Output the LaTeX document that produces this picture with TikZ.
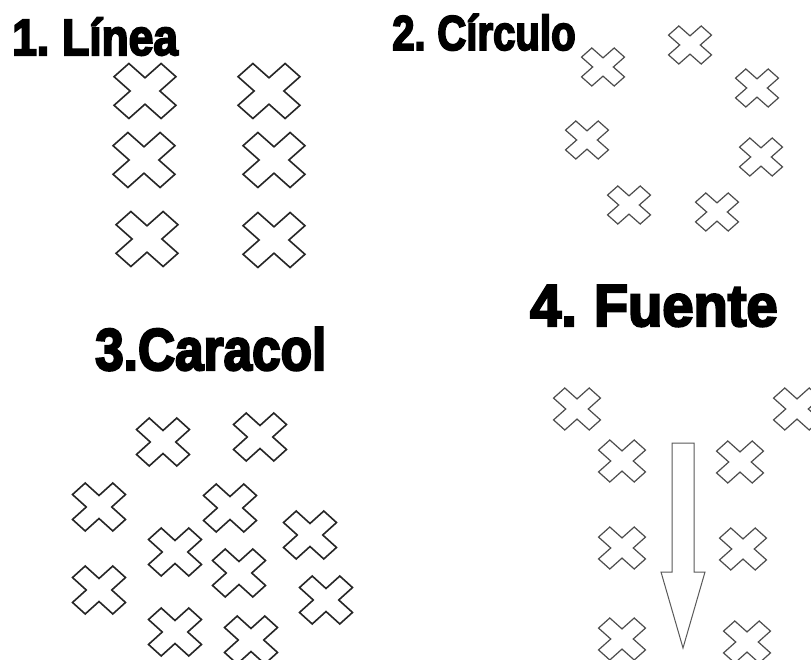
\documentclass[tikz,border=0pt]{standalone}
\usepackage{fontspec}
\newfontfamily\titlefont[FakeBold=4]{Liberation Sans Bold}

\tikzset{
  pics/xmark/.style={code={
    \draw[rotate=45, line join=miter]
      (0.24,0.24) -- (0.76,0.24) -- (0.76,-0.24) -- (0.24,-0.24) -- (0.24,-0.76) -- (-0.24,-0.76)
      -- (-0.24,-0.24) -- (-0.76,-0.24) -- (-0.76,0.24) -- (-0.24,0.24) -- (-0.24,0.76) -- (0.24,0.76) -- cycle;
  }}
}

\begin{document}
\begin{tikzpicture}[
  x=1pt, y=-1pt,
  title/.style={anchor=base west, inner sep=0pt, font=\titlefont},
  darkx/.style={color=black!85, line width=1.6pt},
  grayx/.style={color=black!70, line width=1.2pt},
  linea/.style={darkx, xscale=43.8, yscale=38.9},
  circulo/.style={grayx, xscale=30.4, yscale=26.9},
  caracol/.style={darkx, xscale=37.5, yscale=33.9},
  fuente/.style={grayx, xscale=33.2, yscale=29.7},
  arrowline/.style={draw=black!65, line width=1pt, line join=miter}
]
  \useasboundingbox[fill=white] (0,0) rectangle (811,660);

  % titles
  \node[title, font=\titlefont\fontsize{51}{51}\selectfont] (tlinea)   at (12,55)  {\scalebox{0.87}[1]{1.\hspace{-4pt} Línea}};
  \node[title, font=\titlefont\fontsize{49}{49}\selectfont] (tcirculo) at (392,50) {\scalebox{0.82}[1]{2.\hspace{-4pt} Círculo}};
  \node[title, font=\titlefont\fontsize{59}{59}\selectfont] (tcaracol) at (95,370) {\scalebox{0.87}[1]{3.Caracol}};
  \node[title, font=\titlefont\fontsize{59}{59}\selectfont] (tfuente)  at (530,326) {\scalebox{0.95}[1]{4.\hspace{-4pt} Fuente}};

  % 1. linea
  \foreach \px/\py in {145/91, 269/91, 144/160, 274/160, 147/239, 274/240}
    \pic[linea] at (\px,\py) {xmark};

  % 2. circulo
  \foreach \px/\py in {603/67, 690/45, 757/88, 587/140, 761/157, 629/205, 717/212}
    \pic[circulo] at (\px,\py) {xmark};

  % 3. caracol
  \foreach \px/\py in {163/442, 260/437, 99/507, 230/508, 310/535, 175/552,
                       239/573, 99/590, 326/600, 175/632, 251/640}
    \pic[caracol] at (\px,\py) {xmark};

  % 4. fuente
  \foreach \px/\py in {577/409, 797/409, 622/461, 740/462, 622/548, 743/549, 622/639, 747/642}
    \pic[fuente] at (\px,\py) {xmark};

  % flecha
  \draw[arrowline] (672,443) -- (694,443) -- (694,572) -- (705,572) -- (683,648)
    -- (661,572) -- (672,572) -- cycle;
\end{tikzpicture}
\end{document}
